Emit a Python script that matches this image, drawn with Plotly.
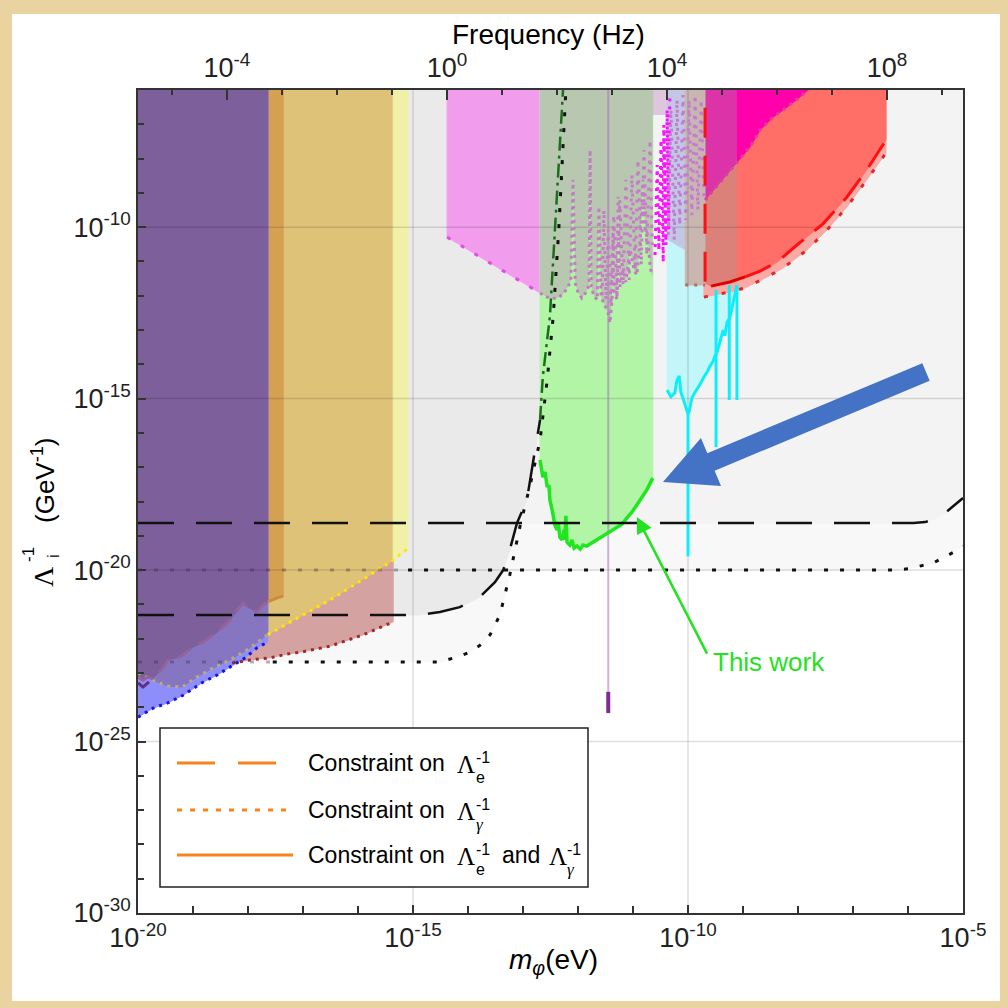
import numpy as np
import plotly.graph_objects as go

H_EV_S = 4.135667696e-15  # Planck constant, eV s  (f = m c^2 / h)

# ---------------- axis ticks (log10 values) ----------------
mass_ticks = [-20, -15, -10, -5]
coupling_ticks = [-30, -25, -20, -15, -10]
freq_ticks = [-4, 0, 4, 8]
mass_range = [-20, -5]
coupling_range = [-30, -6]
TOP = -5.5  # closes filled regions above the visible range

# ---------------- constraint curves: log10 m_phi [eV], log10 Lambda^-1 [GeV^-1] ----------------
# long-range equivalence-principle bounds
ep_e_hi_m = [-20, -5.9, -5.69, -5.51, -5.33, -5.15, -5.0]
ep_e_hi_L = [-18.63, -18.63, -18.60, -18.51, -18.34, -18.10, -17.90]
ep_g_hi_m = [-20, -6.2, -6.0, -5.55, -5.1, -5.0]
ep_g_hi_L = [-20.0, -20.0, -19.96, -19.8, -19.42, -19.3]
# satellite test bounds with Yukawa cut-off
micro_e_m = [-20, -14.87, -14.51, -14.15, -13.78, -13.51, -13.36, -13.24, -13.11, -12.93, -12.82, -12.69, -12.60, -12.51, -12.40, -12.27]
micro_e_L = [-21.31, -21.31, -21.22, -21.08, -20.78, -20.35, -20.0, -19.41, -18.63, -17.96, -16.88, -15.62, -14.37, -12.59, -10.08, -6.0]
micro_g_m = [-20, -14.51, -14.15, -13.96, -13.78, -13.6, -13.42, -13.24, -13.05, -12.87, -12.69, -12.56, -12.45, -12.35, -12.22]
micro_g_L = [-22.68, -22.68, -22.51, -22.39, -22.19, -21.89, -21.31, -20.14, -18.69, -17.52, -16.21, -14.46, -12.59, -10.08, -6.0]
dgreen_m = [-12.69, -12.64, -12.51, -12.42, -12.33, -12.27]
dgreen_L = [-15.62, -14.37, -12.59, -10.08, -7.90, -5.94]

# ultralight-mass clock / spectroscopy bounds
purple_m = [-20, -19.91, -19.82, -19.73, -19.55, -19.45, -19.24, -19.02, -18.82, -18.56, -18.33, -18.15, -18.09, -18.0, -17.84, -17.73, -17.64]
purple_L = [-23.12, -23.21, -23.12, -23.15, -22.86, -22.62, -22.53, -22.27, -22.10, -21.81, -21.46, -21.11, -20.96, -21.08, -21.22, -21.02, -20.93]
orange_m = [-17.64, -17.47, -17.36]
orange_L = [-20.93, -20.81, -20.76]
yellow_m = [-20, -19.73, -19.47, -19.2, -18.93, -18.64, -18.33, -18.02, -17.65, -17.33, -17.0, -16.51, -16.02, -15.65, -15.36, -15.09]
yellow_L = [-23.0, -23.21, -23.38, -23.41, -23.12, -22.86, -22.62, -22.33, -21.89, -21.60, -21.31, -20.87, -20.38, -20.0, -19.71, -19.36]
blue_m = [-20, -19.73, -19.47, -19.18, -18.82, -18.56, -18.33, -18.05, -17.84, -17.64]
blue_L = [-24.29, -24.03, -23.88, -23.65, -23.27, -23.06, -22.83, -22.56, -22.27, -22.10]
brown_m = [-18.29, -17.96, -17.6, -17.29, -17.0, -16.51, -15.91, -15.42, -15.36]
brown_L = [-22.71, -22.62, -22.56, -22.45, -22.38, -22.22, -21.89, -21.54, -21.51]
comb_m = [-20, -19.91, -19.8]
comb_L = [-23.29, -23.41, -23.26]

# mid-mass bounds
pink_m = [-14.38, -12.69]
pink_L = [-10.29, -11.92]
green_m = [-12.69, -12.67, -12.64, -12.6, -12.56, -12.53, -12.51, -12.47, -12.45, -12.42, -12.38, -12.36, -12.33,
           -12.29, -12.25, -12.24, -12.22, -12.2, -12.15, -12.11, -12.07, -12.02, -11.96, -11.91, -11.84, -11.75,
           -11.65, -11.56, -11.47, -11.38, -11.29, -11.2, -11.11, -11.02, -10.93, -10.84, -10.75, -10.64]
green_L = [-16.79, -17.08, -17.29, -17.14, -17.58, -17.52, -17.96, -18.25, -18.45, -18.69, -18.83, -18.60, -19.04,
           -19.12, -18.83, -19.12, -18.42, -19.18, -19.27, -19.12, -19.36, -19.30, -19.39, -19.27, -19.30, -19.21,
           -19.12, -19.04, -18.95, -18.86, -18.77, -18.66, -18.48, -18.31, -18.10, -17.90, -17.66, -17.32]
scal_m = [-12.69, -12.6, -12.51, -12.38, -12.27, -12.18, -12.13, -12.09, -12.05, -12.0, -11.93, -11.85, -11.8,
          -11.78, -11.76, -11.71, -11.65, -11.62, -11.58, -11.51, -11.45, -11.42, -11.38, -11.36, -11.35, -11.29,
          -11.27, -11.24, -11.18, -11.13, -11.05, -10.98, -10.93, -10.87, -10.82, -10.78, -10.73, -10.69, -10.66]
scal_L = [-11.92, -12.01, -12.07, -12.07, -11.95, -11.74, -11.54, -8.62, -11.63, -11.89, -12.07, -11.89, -11.69,
          -7.75, -11.74, -12.01, -12.12, -9.41, -12.04, -12.27, -12.50, -12.79, -12.12, -10.02, -11.83, -12.12,
          -9.12, -11.74, -11.25, -11.60, -10.67, -11.25, -11.40, -10.37, -8.62, -10.08, -10.37, -11.10, -11.40]
scal_ext_m = [-10.64, -10.64, -10.38, -10.38, -10.05]
scal_ext_L = [-11.40, -6.73, -6.73, -10.37, -10.67]
cloudA_m = [-11.56, -11.53, -11.49, -11.45, -11.4, -11.35, -11.29, -11.24, -11.18, -11.13, -11.07, -11.02, -10.96,
            -10.91, -10.85, -10.8, -10.75, -10.69, -10.65]
cloudA_L = [-11.98, -9.50, -12.12, -10.08, -12.27, -9.65, -11.98, -9.21, -11.69, -8.62, -11.54, -8.48, -11.25,
            -8.04, -11.10, -7.75, -10.81, -7.46, -10.52]
cloudM_m = [-10.6, -10.56, -10.53, -10.49, -10.45, -10.44, -10.4, -10.38, -10.35, -10.33]
cloudM_L = [-10.81, -8.19, -10.67, -7.46, -11.02, -7.02, -10.52, -6.58, -10.08, -6.15]
cloudB_m = [-10.36, -10.31, -10.25, -10.2, -10.15, -10.09, -10.04, -9.98, -9.93, -9.87, -9.82, -9.76, -9.71]
cloudB_L = [-10.23, -6.58, -10.37, -6.29, -9.94, -6.15, -9.79, -6.29, -9.65, -6.15, -9.50, -6.29, -9.21]
purple_line_m = -11.45
purple_line_L = [-23.55, -24.17]

# higher-mass bounds
cyan_m = [-10.38, -10.31, -10.24, -10.2, -10.16, -10.13, -10.07, -10.02, -10.0, -9.98, -9.93, -9.87, -9.82, -9.76,
          -9.71, -9.65, -9.6, -9.55, -9.51, -9.47, -9.44, -9.4, -9.36, -9.33, -9.29, -9.24, -9.2, -9.16, -9.13, -9.11]
cyan_L = [-14.75, -14.95, -14.84, -14.46, -14.34, -14.81, -15.10, -15.39, -15.45, -15.39, -14.98, -14.81, -14.69,
          -14.52, -14.37, -14.22, -14.05, -13.93, -13.76, -13.64, -13.47, -13.23, -13.0, -13.17, -12.77, -12.65,
          -12.36, -12.12, -11.89, -11.69]
cyan_spike_m = [-10.0, -9.49, -9.25, -9.11]
cyan_spike_hi = [-15.45, -11.83, -11.69, -11.69]
cyan_spike_lo = [-19.6, -16.41, -15.04, -15.04]
red_dot_m = [-9.71, -9.49, -9.24, -8.96, -8.56, -8.27, -7.84, -7.47, -7.11, -6.75, -6.4]
red_dot_L = [-12.04, -11.98, -11.89, -11.77, -11.45, -11.19, -10.67, -10.08, -9.41, -8.62, -7.84]
red_dash_m = [-9.69, -9.58, -9.42, -9.24, -8.96, -8.69, -8.38, -8.02, -7.55, -7.11, -6.75, -6.4]
red_dash_L = [-11.63, -11.72, -11.66, -11.60, -11.45, -11.28, -11.02, -10.52, -9.91, -9.12, -8.33, -7.46]
red_edge_m = -9.69
red_edge_L = [-6.52, -11.63]
mag_m = [-9.69, -9.11, -8.87, -8.69, -8.45, -8.2, -7.96, -7.78]
mag_L = [-9.21, -8.10, -7.66, -7.17, -6.79, -6.50, -6.20, -5.94]
gb_m = [-10.05, -9.69]
gb_L = [-11.69, -11.69]
dusty_m = [-9.69, -9.11]
dusty_L = [-11.66, -11.66]

# "This work" pointer (tip on the curve, tail at the label)
this_work_tip = (-10.93, -18.45)
this_work_tail = (-9.64, -22.48)

# ---------------- page geometry (pixels) ----------------
PL, PR, PT, PB = 138, 963, 90, 913
PW, PH = PR - PL, PB - PT


def px(x):
    return (x - PL) / PW


def py(y):
    return (PB - y) / PH


def lin(v):
    return [None if a is None else 10.0 ** a for a in v]


def segment(m, L, a, b):
    m = np.asarray(m, float)
    L = np.asarray(L, float)
    inside = (m > a) & (m < b)
    mm = [a] + list(m[inside]) + [b]
    LL = [float(np.interp(a, m, L))] + list(L[inside]) + [float(np.interp(b, m, L))]
    return mm, LL


fig = go.Figure()


def add_fill(m, L, color, edge=True):
    xs = list(m) + [m[-1], m[0], m[0]]
    ys = list(L) + [TOP, TOP, L[0]]
    fig.add_trace(go.Scatter(x=lin(xs), y=lin(ys), mode='lines', fill='toself', fillcolor=color,
                             line=dict(width=1 if edge else 0, color=color),
                             hoverinfo='skip', showlegend=False))


def add_line(m, L, color, width=2.5, dash='solid'):
    fig.add_trace(go.Scatter(x=lin(m), y=lin(L), mode='lines',
                             line=dict(color=color, width=width, dash=dash),
                             hoverinfo='skip', showlegend=False))


DOT_BLACK = '4px,12px'
DASH_BLACK = '36px,22px'

# ---- shaded exclusion regions (back to front) ----
add_fill(ep_g_hi_m, ep_g_hi_L, '#F8F8F8')
add_fill(micro_g_m, micro_g_L, '#F8F8F8')
add_fill(ep_e_hi_m, ep_e_hi_L, '#F3F3F3')
add_fill(micro_e_m, micro_e_L, '#EAEAEA')
add_fill(brown_m, brown_L, '#D5A2A2')
add_fill(*segment(yellow_m, yellow_L, -17.64, -15.36), '#DEC277')
add_fill(*segment(yellow_m, yellow_L, -15.36, -15.09), '#F1F0A8')
add_fill(orange_m, orange_L, '#D4A152')
add_fill(blue_m, blue_L, '#8E8EFA')
add_fill(*segment(yellow_m, yellow_L, -20, -17.64), '#8676C2')
add_fill(purple_m, purple_L, '#7C5F9B')
add_fill(pink_m, pink_L, '#F29CEE')
add_fill(green_m, green_L, '#B3F5A7')
add_fill(cyan_m, cyan_L, '#C3F6F8')
add_fill(scal_m + scal_ext_m, scal_L + scal_ext_L, 'rgba(193,127,193,0.38)', edge=False)
add_fill(red_dot_m, red_dot_L, '#F9AAA4')
add_fill(red_dash_m, red_dash_L, '#FF6F67')
add_fill(mag_m, mag_L, '#FF00AA')
add_fill(gb_m, gb_L, '#C9B6B1')
add_fill(dusty_m, dusty_L, 'rgba(140,170,165,0.30)', edge=False)

# ---- grid drawn over the shading ----
grid_col = 'rgba(0,0,0,0.13)'
gx, gy = [], []
for k in mass_ticks[1:-1]:
    gx += [k, k, None]
    gy += [coupling_range[0], coupling_range[1], None]
for k in coupling_ticks[1:]:
    gx += [mass_range[0], mass_range[1], None]
    gy += [k, k, None]
add_line(gx, gy, grid_col, width=1.5)

# narrow-band detector line
add_line([purple_line_m, purple_line_m], [purple_line_L[0], TOP], 'rgba(165,95,185,0.5)', width=2)
add_line([purple_line_m, purple_line_m], purple_line_L, '#7B2E8F', width=4)

# ---- boundary curves ----
ym, yL = segment(yellow_m, yellow_L, -20, -17.64)
add_line(ym, yL, '#B9AA7C', width=3, dash='3px,5px')
ym, yL = segment(yellow_m, yellow_L, -17.64, -15.09)
add_line(ym, yL, '#FFE600', width=3, dash='3px,5px')
add_line(brown_m, brown_L, '#A3272C', width=3, dash='3px,5px')
add_line(blue_m, blue_L, '#1515E0', width=3, dash='3px,5px')
add_line(purple_m, purple_L, '#94639A', width=3, dash='17px,8px')
add_line(orange_m, orange_L, '#D08A3C', width=3, dash='17px,8px')
add_line(comb_m, comb_L, '#5E2F86', width=3)
add_line(pink_m, pink_L, '#E24FE0', width=3, dash='4px,12px')
add_line(scal_m, scal_L, '#C47BC4', width=3, dash='3px,4px')
add_line(cloudA_m, cloudA_L, '#C67CC6', width=3, dash='3px,6px')
add_line(cloudM_m, cloudM_L, '#FF10FF', width=3, dash='3px,5px')
add_line(cloudB_m, cloudB_L, '#C27CD0', width=3, dash='3px,6px')
add_line(mag_m, mag_L, '#D8449A', width=3, dash='3px,5px')
add_line(gb_m, gb_L, '#B46A6A', width=3, dash='3px,6px')
add_line(red_dot_m, red_dot_L, '#E02828', width=3, dash='4px,14px')
rs_m, rs_L = segment(red_dash_m, red_dash_L, -9.58, -8.96)
add_line(rs_m, rs_L, '#E00000', width=3)
rd_m, rd_L = segment(red_dash_m, red_dash_L, -8.96, -6.4)
add_line(rd_m, rd_L, '#FF1010', width=3, dash='28px,14px')
add_line([red_edge_m, red_edge_m], red_edge_L, '#FF1010', width=3, dash='30px,18px')

cy_spk_m, cy_spk_L = [], []
for m0, hi, lo in zip(cyan_spike_m, cyan_spike_hi, cyan_spike_lo):
    cy_spk_m += [m0, m0, None]
    cy_spk_L += [hi, lo, None]
add_line(cyan_m, cyan_L, '#0CEFFA', width=3)
add_line(cy_spk_m, cy_spk_L, '#0CEFFA', width=3)

add_line(green_m, green_L, '#20E620', width=3.5)

# black equivalence-principle curves
add_line(ep_e_hi_m, ep_e_hi_L, '#111111', width=2.5, dash=DASH_BLACK)
em, eL = segment(micro_e_m, micro_e_L, -20, dgreen_m[0])
add_line(em, eL, '#111111', width=2.5, dash=DASH_BLACK)
gm, gL = segment(ep_g_hi_m, ep_g_hi_L, -20, -15.09)
add_line(gm, gL, 'rgba(50,40,60,0.35)', width=3, dash=DOT_BLACK)
gm, gL = segment(ep_g_hi_m, ep_g_hi_L, -15.09, -5.0)
add_line(gm, gL, '#111111', width=3, dash=DOT_BLACK)
gm, gL = segment(micro_g_m, micro_g_L, -20, -17.55)
add_line(gm, gL, 'rgba(50,40,60,0.35)', width=3, dash=DOT_BLACK)
gm, gL = segment(micro_g_m, micro_g_L, -17.55, -12.22)
add_line(gm, gL, '#111111', width=3, dash=DOT_BLACK)
add_line(dgreen_m, dgreen_L, '#1B6E1B', width=2.5, dash='14px,5px,3px,5px')

# keeps the frequency axis alive
log_h = np.log10(H_EV_S)
freq_range = [mass_range[0] - log_h, mass_range[1] - log_h]
fig.add_trace(go.Scatter(x=[10 ** freq_range[0], 10 ** freq_range[1]], y=[1e-40, 1e-40], xaxis='x2',
                         mode='markers', marker=dict(opacity=0), hoverinfo='skip', showlegend=False))

FONT = 'Liberation Sans, Arial, Helvetica, sans-serif'
SERIF = 'Liberation Serif, DejaVu Serif, serif'
tick_font = dict(family=FONT, size=27, color='#222222')
axis_common = dict(type='log', ticks='inside', ticklen=8, tickwidth=1.5, tickcolor='#333333',
                   showline=True, linecolor='#333333', linewidth=1.5, showgrid=False, zeroline=False,
                   tickfont=tick_font, layer='above traces', tickmode='array')

fig.update_layout(
    width=1007, height=1008,
    margin=dict(l=PL, r=1007 - PR, t=PT, b=1008 - PB),
    paper_bgcolor='#E8D3A1', plot_bgcolor='white', showlegend=False,
    xaxis=dict(range=mass_range, tickvals=lin(mass_ticks),
               ticktext=[f'10<sup>{t}</sup>' for t in mass_ticks],
               minor=dict(tickmode='array', tickvals=lin(range(-19, -5)), ticks='inside', ticklen=7,
                          tickwidth=1.5, tickcolor='#333333'),
               mirror=False, **axis_common),
    xaxis2=dict(range=freq_range, overlaying='x', side='top', anchor='y',
                tickvals=lin(freq_ticks), ticktext=[f'10<sup>{t}</sup>' for t in freq_ticks],
                minor=dict(tickmode='array', tickvals=lin(range(-5, 10)), ticks='inside', ticklen=5,
                           tickwidth=1.5, tickcolor='#333333'),
                **{**axis_common, 'ticklen': 10}),
    yaxis=dict(range=coupling_range, tickvals=lin(coupling_ticks),
               ticktext=[f'10<sup>{t}</sup>' for t in coupling_ticks],
               minor=dict(tickmode='array', tickvals=lin(range(-29, -6)), ticks='inside', ticklen=6,
                          tickwidth=1.5, tickcolor='#333333'),
               mirror=True, **axis_common),
)

shapes = []
# white figure sheet on the textured backdrop
shapes.append(dict(type='rect', xref='paper', yref='paper', x0=px(12), x1=px(1000), y0=py(1001), y1=py(14),
                   fillcolor='white', line=dict(width=0), layer='below'))

# big pointer arrow
tail = np.array([926.0, 372.0])
tip = np.array([663.0, 482.0])
u = (tip - tail) / np.linalg.norm(tip - tail)
n = np.array([-u[1], u[0]])
base = tip - 52 * u
poly = [tail - 9.5 * n, base - 9.5 * n, base - 26 * n, tip, base + 26 * n, base + 9.5 * n, tail + 9.5 * n]
path = 'M ' + ' L '.join(f'{px(p[0]):.5f},{py(p[1]):.5f}' for p in poly) + ' Z'
shapes.append(dict(type='path', xref='paper', yref='paper', path=path, fillcolor='#4472C4',
                   line=dict(width=0), layer='above'))

# legend box
shapes.append(dict(type='rect', xref='paper', yref='paper', x0=px(160), x1=px(588), y0=py(887), y1=py(728),
                   fillcolor='white', line=dict(color='#222222', width=1.5), layer='above'))
leg_rows = [763, 810, 855]
leg_dash = ['38px,23px', '5px,8px', 'solid']
leg_end = [277, 287, 293]
ORANGE = '#F5841F'
for yr, d, xe in zip(leg_rows, leg_dash, leg_end):
    shapes.append(dict(type='line', xref='paper', yref='paper', x0=px(177), x1=px(xe), y0=py(yr), y1=py(yr),
                       line=dict(color=ORANGE, width=3, dash=d), layer='above'))
fig.update_layout(shapes=shapes)

ann = []


def text(x, y, s, size, color='black', xanchor='left', angle=0, family=FONT):
    ann.append(dict(xref='paper', yref='paper', x=px(x), y=py(y), text=s, showarrow=False,
                    xanchor=xanchor, yanchor='middle', textangle=angle,
                    font=dict(family=family, size=size, color=color)))


for yr, subs in zip(leg_rows, [['e'], ['<i>γ</i>'], ['e', '<i>γ</i>']]):
    text(306, yr, 'Constraint on', 23)
    text(455, yr + 1, 'Λ', 25, family=SERIF)
    text(474, yr - 6, '-1', 16)
    text(474, yr + 14, subs[0], 16 if subs[0] == 'e' else 17, family=FONT if subs[0] == 'e' else SERIF)
    if len(subs) == 2:
        text(500, yr, 'and', 23)
        text(547, yr + 1, 'Λ', 25, family=SERIF)
        text(565, yr - 6, '-1', 16)
        text(565, yr + 14, subs[1], 17, family=SERIF)

# axis titles
text(548, 34, 'Frequency (Hz)', 28, xanchor='center')
text(553, 962, '<i>m</i><sub><i>φ</i></sub>(eV)', 28, xanchor='center')
text(43, 577, 'Λ', 28, xanchor='center', angle=-90, family=SERIF)
text(28, 555, '-1', 17, xanchor='center', angle=-90)
text(53, 556, 'i', 17, xanchor='center', angle=-90)
text(43, 480, '(GeV<sup>-1</sup>)', 26, xanchor='center', angle=-90)

# "This work" label and pointer
text(711, 662, 'This work', 26, color='#22E222')
ann.append(dict(xref='x', yref='y', axref='x', ayref='y', x=this_work_tip[0], y=this_work_tip[1],
                ax=this_work_tail[0], ay=this_work_tail[1], text='', showarrow=True,
                arrowhead=2, arrowsize=1.3, arrowwidth=2.5, arrowcolor='#22E222'))
fig.update_layout(annotations=ann)

fig.write_html('out.html')
